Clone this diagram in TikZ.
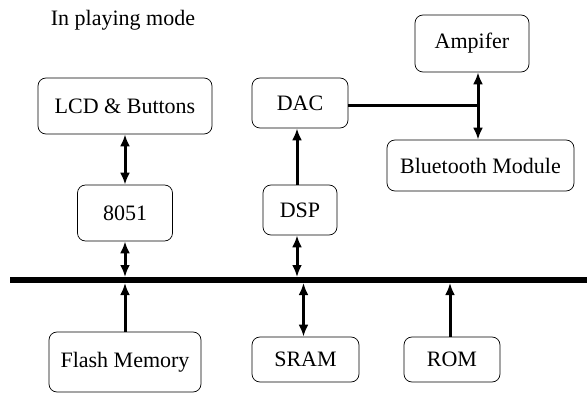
\documentclass[tikz,border=0pt]{standalone}
\usepackage{fontspec}
\setmainfont{Liberation Serif}
\usetikzlibrary{arrows.meta}

\begin{document}
\begin{tikzpicture}[x=1pt,y=-1pt,
    block/.style={draw, rounded corners=8pt, line width=0.7pt, inner sep=0pt,
      font=\fontsize{22}{26}\selectfont},
    link/.style={line width=3pt},
    >={Latex[length=12pt,width=10pt]}]
      \useasboundingbox (0,0) rectangle (587,393);
      \node (title) [font=\fontsize{22}{26}\selectfont] at (123,20) {In playing mode};
%% upper row
      \node (lcd) [block, minimum width=174pt, minimum height=56pt] at (125,106) {LCD \& Buttons};
      \node (n8051) [block, minimum width=95pt, minimum height=56pt] at (125,213) {8051};
      \node (dac) [block, minimum width=96pt, minimum height=50pt] at (300,103) {DAC};
      \node (dsp) [block, minimum width=74pt, minimum height=50pt] at (300,210) {DSP};
      \node (amp) [block, minimum width=114pt, minimum height=57pt] at (472,43.5) {Ampifer};
      \node (bt) [block, minimum width=187pt, minimum height=51pt] at (480.5,165.5) {Bluetooth Module};
%% lower row
      \node (flash) [block, minimum width=152pt, minimum height=60pt] at (125,362) {Flash Memory};
      \node (sram) [block, minimum width=107pt, minimum height=45pt] at (305.5,359.5) {SRAM};
      \node (rom) [block, minimum width=96pt, minimum height=45pt] at (452,359.5) {ROM};
%% bus
      \coordinate (busL) at (10,280);
      \coordinate (busR) at (587,280);
      \coordinate (bustop) at (0,277);
      \coordinate (busbot) at (0,283);
      \draw [line width=6pt] (busL) -- (busR);
%% links
      \draw [link,<->] (lcd.south) -- (n8051.north);
      \draw [link,<->] (n8051.south) -- (n8051.south |- bustop);
      \draw [link,->] (flash.north) -- (flash.north |- busbot);
      \draw [link,->] ([xshift=-3pt]dsp.north) -- ([xshift=-3pt]dac.south);
      \draw [link,<->] ([xshift=-3pt]dsp.south) -- ([xshift=-3pt]dsp.south |- bustop);
      \draw [link,<->] ([xshift=-2pt]sram.north) -- ([xshift=-2pt]sram.north |- busbot);
      \draw [link,->] ([xshift=-2pt]rom.north) -- ([xshift=-2pt]rom.north |- busbot);
      \coordinate (jn) at (478,106);
      \draw [link] (dac.east |- jn) -- (jn);
      \draw [link,<->] (amp.south -| jn) -- (bt.north -| jn);
    \end{tikzpicture}
\end{document}
